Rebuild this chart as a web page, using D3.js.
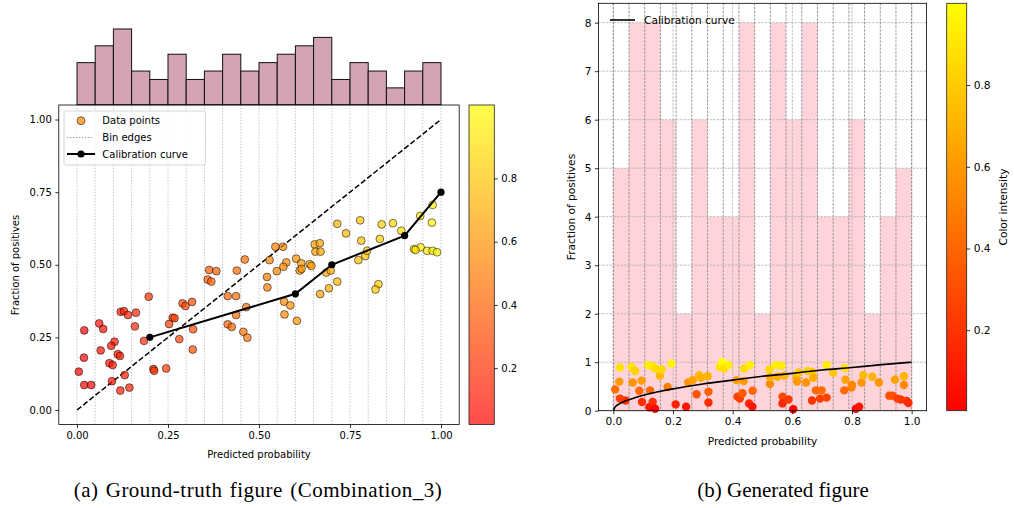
<!DOCTYPE html>
<html>
<head>
<meta charset="utf-8">
<script src="https://cdn.jsdelivr.net/npm/d3@7"></script>
<style>
  body { margin: 0; background: #fff; }
  svg { display: block; }
  text { font-family: "DejaVu Sans", sans-serif; fill: #000; }
  .cap { font-family: "Liberation Serif", "Times New Roman", serif; }
</style>
</head>
<body>
<svg id="chart" width="1014" height="508"></svg>
<script>
// ---- (a) ground-truth panel data ----
var predProb = [0.363,0.383,0.359,0.369,0.439,0.461,0.197,0.414,0.437,0.290,
                0.298,0.316,0.465,0.120,0.129,0.140,0.162,0.263,0.268,0.253,
                0.061,0.072,0.020,0.159,0.414,0.425,0.319,0.457,0.468,0.437,
                0.184,0.281,0.103,0.094,0.065,0.318,0.019,0.112,0.118,0.089,
                0.098,0.210,0.212,0.245,0.005,0.131,0.096,0.020,0.039,0.119,
                0.144,0.545,0.566,0.529,0.575,0.567,0.549,0.522,0.523,0.653,
                0.667,0.655,0.669,0.602,0.616,0.639,0.644,0.612,0.617,0.668,
                0.685,0.697,0.692,0.715,0.715,0.739,0.778,0.781,0.773,0.792,
                0.797,0.832,0.837,0.868,0.891,0.828,0.820,0.943,0.977,0.975,
                0.926,0.944,0.962,0.977,0.989,0.569,0.586,0.570,0.604,0.930];
var fracPos  = [0.482,0.478,0.449,0.442,0.480,0.518,0.390,0.392,0.392,0.367,
                0.358,0.372,0.354,0.338,0.340,0.327,0.335,0.318,0.316,0.296,
                0.298,0.279,0.274,0.288,0.295,0.286,0.278,0.269,0.249,0.327,
                0.238,0.244,0.235,0.221,0.205,0.208,0.180,0.192,0.186,0.161,
                0.155,0.141,0.135,0.143,0.132,0.120,0.099,0.086,0.086,0.067,
                0.077,0.562,0.562,0.516,0.508,0.493,0.478,0.458,0.422,0.570,
                0.574,0.545,0.545,0.521,0.505,0.502,0.496,0.480,0.486,0.399,
                0.473,0.480,0.419,0.442,0.641,0.608,0.653,0.583,0.516,0.530,
                0.548,0.589,0.639,0.643,0.617,0.433,0.415,0.668,0.706,0.645,
                0.554,0.560,0.548,0.548,0.543,0.373,0.360,0.329,0.307,0.551];
var calibX = [0.2, 0.6, 0.7, 0.9, 1.0];
var calibY = [0.25, 0.40, 0.50, 0.60, 0.75];
var axisTicks = [0, 0.25, 0.5, 0.75, 1];
var cbarTicks = [0.2, 0.4, 0.6, 0.8];
var cbarRangeA = [0.022, 1.032];

// ---- (b) generated panel data ----
var genX = [0.006,0.020,0.022,0.022,0.041,0.061,0.065,0.073,0.087,0.095,
            0.096,0.117,0.123,0.121,0.132,0.134,0.140,0.140,0.156,0.162,
            0.182,0.195,0.209,0.244,0.251,0.266,0.279,0.288,0.294,0.316,
            0.319,0.319,0.357,0.365,0.371,0.386,0.413,0.416,0.424,0.433,
            0.437,0.438,0.455,0.458,0.467,0.466,0.523,0.525,0.525,0.545,
            0.550,0.564,0.567,0.567,0.573,0.587,0.603,0.614,0.616,0.621,
            0.646,0.651,0.666,0.667,0.670,0.679,0.693,0.698,0.715,0.715,
            0.737,0.774,0.776,0.778,0.798,0.800,0.813,0.824,0.832,0.838,
            0.868,0.890,0.925,0.936,0.944,0.952,0.963,0.974,0.974,0.983,0.989];
var genY = [0.44,0.60,0.89,0.25,0.21,0.90,0.58,0.82,0.41,0.62,
            0.18,0.94,0.42,0.07,0.18,0.91,0.87,0.04,0.72,0.85,
            0.49,0.97,0.13,0.08,0.58,0.63,0.34,0.73,0.68,0.71,
            0.39,0.17,0.90,1.00,0.87,0.94,0.63,0.29,0.25,0.36,
            0.61,0.87,0.15,0.94,0.41,0.08,0.85,0.55,0.69,0.94,
            0.70,0.93,0.29,0.15,0.72,0.23,0.03,0.68,0.60,0.79,
            0.58,0.82,0.21,0.80,0.68,0.42,0.25,0.42,0.27,0.94,
            0.78,0.42,0.88,0.64,0.48,0.53,0.04,0.08,0.58,0.73,
            0.70,0.58,0.31,0.31,0.64,0.25,0.23,0.71,0.53,0.20,0.16];
var genCounts = [5,8,8,6,2,6,4,4,8,2,8,6,8,4,4,6,2,4,5];
var genCurveX = [0,0.005,0.01,0.02,0.04,0.07,0.1,0.15,0.2,0.3,0.4,0.5,0.6,0.7,0.8,0.9,1.0];
var genCurveY = [0,0.07,0.10,0.14,0.20,0.26,0.32,0.39,0.45,0.55,0.63,0.71,0.77,0.84,0.89,0.95,1.0];
var genXTicks = [0, 0.2, 0.4, 0.6, 0.8, 1.0];
var genYTicks = [0, 1, 2, 3, 4, 5, 6, 7, 8];
var cbarRangeB = [0.003, 1.0];

var captions = ["(a) Ground-truth figure (Combination_3)", "(b) Generated figure"];

var svg = d3.select("#chart");

// matplotlib "autumn": red -> yellow
function autumn(t) {
  t = Math.max(0, Math.min(1, t));
  return d3.rgb(255, Math.round(255 * t), 0).formatHex();
}

function drawColorbar(id, x0, x1, y0, y1, domain, opacity, fs, label) {
  var grad = svg.append("defs").append("linearGradient")
      .attr("id", id).attr("x1", 0).attr("y1", 1).attr("x2", 0).attr("y2", 0);
  d3.range(0, 1.0001, 0.1).forEach(function(t) {
    grad.append("stop").attr("offset", t).attr("stop-color", autumn(t));
  });
  svg.append("rect").attr("x", x0).attr("y", y0)
      .attr("width", x1 - x0).attr("height", y1 - y0)
      .attr("fill", "url(#" + id + ")").attr("fill-opacity", opacity);
  svg.append("rect").attr("x", x0).attr("y", y0)
      .attr("width", x1 - x0).attr("height", y1 - y0)
      .attr("fill", "none").attr("stroke", "#222").attr("stroke-width", 0.8);
  var cs = d3.scaleLinear().domain(domain).range([y1, y0]);
  var g = svg.append("g").attr("transform", "translate(" + x1 + ",0)")
      .call(d3.axisRight(cs).tickValues(cbarTicks).tickSize(3.5).tickPadding(3.5)
        .tickFormat(d3.format(".1f")));
  g.select(".domain").remove();
  g.selectAll("text").style("font-size", fs + "px").style("font-family", "DejaVu Sans");
  g.selectAll("line").attr("stroke", "#000").attr("stroke-width", 0.8);
  if (label) {
    svg.append("text").attr("transform", "translate(1003," + ((y0 + y1) / 2) + ") rotate(-90)")
        .attr("text-anchor", "middle").attr("dominant-baseline", "central")
        .style("font-size", fs + "px").text(label);
  }
}

function styleAxis(g, fs) {
  g.select(".domain").remove();
  g.selectAll("text").style("font-size", fs + "px").style("font-family", "DejaVu Sans");
  g.selectAll("line").attr("stroke", "#000").attr("stroke-width", 0.8);
}

// =================== panel (a) ===================
(function() {
  var x = d3.scaleLinear().domain([-0.05, 1.05]).range([58.8, 459.2]);
  var y = d3.scaleLinear().domain([-0.05, 1.05]).range([424.5, 105]);

  // marginal histogram
  var bins = d3.bin().domain([0, 1]).thresholds(d3.range(1, 20).map(function(i) { return i * 0.05; }))(predProb);
  var hy = d3.scaleLinear().domain([0, 9.45]).range([104.7, 25.2]);
  svg.append("g").selectAll("rect").data(bins).enter().append("rect")
      .attr("x", function(d) { return x(d.x0); })
      .attr("y", function(d) { return hy(d.length); })
      .attr("width", function(d) { return x(d.x1) - x(d.x0); })
      .attr("height", function(d) { return hy(0) - hy(d.length); })
      .attr("fill", "#d5a4b3").attr("stroke", "#111").attr("stroke-width", 1);

  // bin edge lines
  var edges = d3.range(0, 21).map(function(i) { return i * 0.05; });
  svg.append("g").selectAll("line").data(edges).enter().append("line")
      .attr("x1", function(d) { return x(d); }).attr("x2", function(d) { return x(d); })
      .attr("y1", 105).attr("y2", 424.5)
      .attr("stroke", "#b5b5b5").attr("stroke-width", 0.8).attr("stroke-dasharray", "1.4,1.6");

  // perfect calibration diagonal
  svg.append("line").attr("x1", x(0)).attr("y1", y(0)).attr("x2", x(1)).attr("y2", y(1))
      .attr("stroke", "#000").attr("stroke-width", 1.5).attr("stroke-dasharray", "5.5,2.4");

  var norm = d3.scaleLinear().domain(cbarRangeA).range([0, 1]);
  svg.append("g").selectAll("circle").data(predProb).enter().append("circle")
      .attr("cx", function(d) { return x(d); })
      .attr("cy", function(d, i) { return y(fracPos[i]); })
      .attr("r", 3.9)
      .attr("fill", function(d) { return autumn(norm(d)); })
      .attr("fill-opacity", 0.7)
      .attr("stroke", "#000").attr("stroke-opacity", 0.65).attr("stroke-width", 0.8);

  var line = d3.line().x(function(d) { return x(d); }).y(function(d, i) { return y(calibY[i]); });
  svg.append("path").datum(calibX).attr("d", line)
      .attr("fill", "none").attr("stroke", "#000").attr("stroke-width", 2);
  svg.append("g").selectAll("circle").data(calibX).enter().append("circle")
      .attr("cx", function(d) { return x(d); })
      .attr("cy", function(d, i) { return y(calibY[i]); })
      .attr("r", 3.6).attr("fill", "#000");

  // frame + axes
  svg.append("rect").attr("x", 58.8).attr("y", 105).attr("width", 400.4).attr("height", 319.5)
      .attr("fill", "none").attr("stroke", "#000").attr("stroke-width", 0.8);
  var gx = svg.append("g").attr("transform", "translate(0,424.5)")
      .call(d3.axisBottom(x).tickValues(axisTicks).tickSize(3.5).tickPadding(3.5).tickFormat(d3.format(".2f")));
  styleAxis(gx, 10);
  var gy = svg.append("g").attr("transform", "translate(58.8,0)")
      .call(d3.axisLeft(y).tickValues(axisTicks).tickSize(3.5).tickPadding(3.5).tickFormat(d3.format(".2f")));
  styleAxis(gy, 10);

  svg.append("text").attr("x", 259).attr("y", 454).attr("text-anchor", "middle")
      .attr("dominant-baseline", "central").style("font-size", "10px").text("Predicted probability");
  svg.append("text").attr("transform", "translate(15,265) rotate(-90)").attr("text-anchor", "middle")
      .attr("dominant-baseline", "central").style("font-size", "10px").text("Fraction of positives");

  // legend
  var lg = svg.append("g");
  lg.append("rect").attr("x", 64).attr("y", 111).attr("width", 141.5).attr("height", 54).attr("rx", 2)
      .attr("fill", "#fff").attr("fill-opacity", 0.8).attr("stroke", "#ccc").attr("stroke-width", 0.8);
  lg.append("circle").attr("cx", 81).attr("cy", 120.7).attr("r", 4)
      .attr("fill", autumn(0.5)).attr("fill-opacity", 0.7)
      .attr("stroke", "#000").attr("stroke-opacity", 0.65).attr("stroke-width", 0.8);
  lg.append("line").attr("x1", 67).attr("x2", 92).attr("y1", 137.5).attr("y2", 137.5)
      .attr("stroke", "#777").attr("stroke-width", 0.8).attr("stroke-dasharray", "1.4,1.6");
  lg.append("line").attr("x1", 67).attr("x2", 95).attr("y1", 154).attr("y2", 154)
      .attr("stroke", "#000").attr("stroke-width", 2);
  lg.append("circle").attr("cx", 81).attr("cy", 154).attr("r", 3.6).attr("fill", "#000");
  var labels = ["Data points", "Bin edges", "Calibration curve"];
  lg.selectAll("text.lab").data(labels).enter().append("text")
      .attr("x", 102.3).attr("y", function(d, i) { return 120.7 + i * 16.7; })
      .attr("dominant-baseline", "central").style("font-size", "10px").text(function(d) { return d; });

  drawColorbar("cbA", 469, 494.3, 105, 424.5, cbarRangeA, 0.7, 10, null);
})();

// =================== panel (b) ===================
(function() {
  var x = d3.scaleLinear().domain([-0.05, 1.05]).range([598.4, 926.6]);
  var y = d3.scaleLinear().domain([0, 8.4]).range([410.7, 3.3]);
  var edges = d3.range(0, 20).map(function(i) { return i / 19; });

  svg.append("g").selectAll("rect").data(genCounts).enter().append("rect")
      .attr("x", function(d, i) { return x(edges[i]); })
      .attr("y", function(d) { return y(d); })
      .attr("width", function(d, i) { return x(edges[i + 1]) - x(edges[i]); })
      .attr("height", function(d) { return y(0) - y(d); })
      .attr("fill", "#ffc0cb").attr("fill-opacity", 0.7);

  // grid
  svg.append("g").selectAll("line").data(genYTicks).enter().append("line")
      .attr("x1", 598.4).attr("x2", 926.6)
      .attr("y1", function(d) { return y(d); }).attr("y2", function(d) { return y(d); })
      .attr("stroke", "#b0b0b0").attr("stroke-width", 0.8).attr("stroke-dasharray", "2.5,1.2");
  svg.append("g").selectAll("line").data(genXTicks).enter().append("line")
      .attr("x1", function(d) { return x(d); }).attr("x2", function(d) { return x(d); })
      .attr("y1", 3.3).attr("y2", 410.7)
      .attr("stroke", "#b0b0b0").attr("stroke-width", 0.8).attr("stroke-dasharray", "2.5,1.2");
  svg.append("g").selectAll("line").data(edges).enter().append("line")
      .attr("x1", function(d) { return x(d); }).attr("x2", function(d) { return x(d); })
      .attr("y1", 3.3).attr("y2", 410.7)
      .attr("stroke", "#808080").attr("stroke-width", 0.8).attr("stroke-dasharray", "2.5,1.2");

  var norm = d3.scaleLinear().domain(cbarRangeB).range([0, 1]);
  svg.append("g").selectAll("circle").data(genX).enter().append("circle")
      .attr("cx", function(d) { return x(d); })
      .attr("cy", function(d, i) { return y(genY[i]); })
      .attr("r", 4.2)
      .attr("fill", function(d, i) { return autumn(norm(genY[i])); });

  var line = d3.line().curve(d3.curveMonotoneX)
      .x(function(d) { return x(d); }).y(function(d, i) { return y(genCurveY[i]); });
  svg.append("path").datum(genCurveX).attr("d", line)
      .attr("fill", "none").attr("stroke", "#000").attr("stroke-width", 1.6);

  svg.append("rect").attr("x", 598.4).attr("y", 3.3).attr("width", 328.2).attr("height", 407.4)
      .attr("fill", "none").attr("stroke", "#000").attr("stroke-width", 0.8);
  var gx = svg.append("g").attr("transform", "translate(0,410.7)")
      .call(d3.axisBottom(x).tickValues(genXTicks).tickSize(3.5).tickPadding(3.5).tickFormat(d3.format(".1f")));
  styleAxis(gx, 10.6);
  var gy = svg.append("g").attr("transform", "translate(598.4,0)")
      .call(d3.axisLeft(y).tickValues(genYTicks).tickSize(3.5).tickPadding(3.5).tickFormat(d3.format("d")));
  styleAxis(gy, 10.6);

  svg.append("text").attr("x", 762.5).attr("y", 441).attr("text-anchor", "middle")
      .attr("dominant-baseline", "central").style("font-size", "10.6px").text("Predicted probability");
  svg.append("text").attr("transform", "translate(571,207) rotate(-90)").attr("text-anchor", "middle")
      .attr("dominant-baseline", "central").style("font-size", "10.6px").text("Fraction of positives");

  svg.append("line").attr("x1", 610).attr("x2", 635).attr("y1", 20).attr("y2", 20)
      .attr("stroke", "#000").attr("stroke-width", 1.6);
  svg.append("text").attr("x", 644).attr("y", 20).attr("dominant-baseline", "central")
      .style("font-size", "10.6px").text("Calibration curve");

  drawColorbar("cbB", 946.7, 966.7, 3.3, 410.7, cbarRangeB, 1, 10.6, "Color intensity");
})();

// captions
svg.selectAll("text.cap").data(captions).enter().append("text")
    .attr("class", "cap")
    .attr("x", function(d, i) { return i === 0 ? 258 : 783; })
    .attr("y", 497)
    .attr("text-anchor", "middle")
    .style("font-size", "21px")
    .style("letter-spacing", function(d, i) { return i === 0 ? "0.5px" : "0px"; })
    .style("word-spacing", function(d, i) { return i === 0 ? "1.5px" : "0px"; })
    .text(function(d) { return d; });
</script>
</body>
</html>
